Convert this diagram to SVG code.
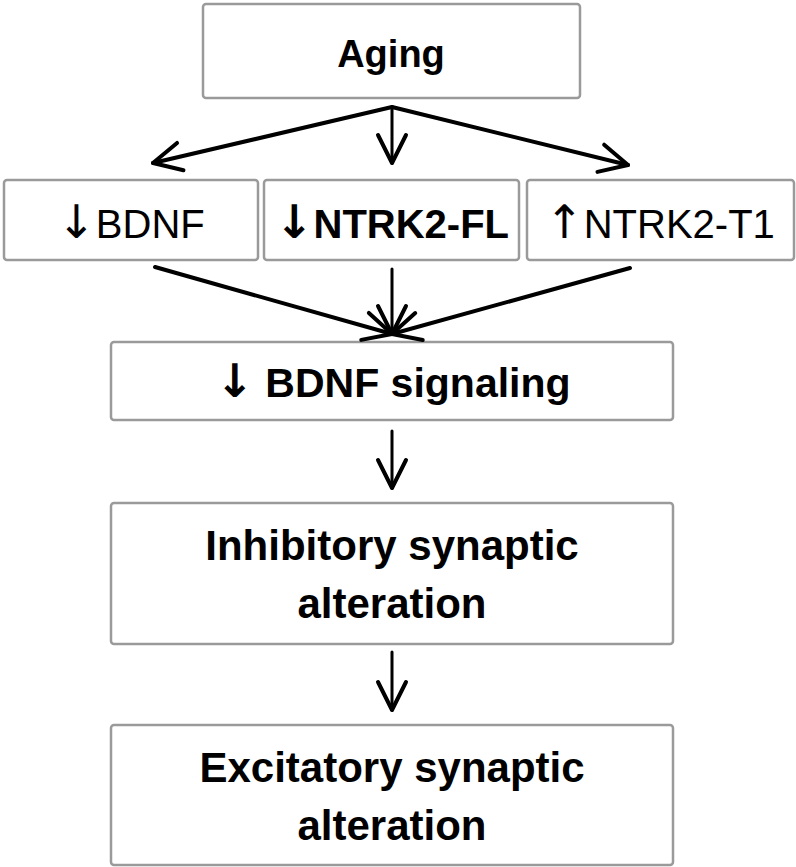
<svg xmlns="http://www.w3.org/2000/svg" width="796" height="867" viewBox="0 0 796 867">
<style>
.box{fill:#fff;stroke:#9a9a9a;stroke-width:2.5}
.t{font-family:"Liberation Sans",Arial,sans-serif;fill:#000;text-anchor:middle}
.b{font-weight:bold}
.ar{font-family:"DejaVu Sans",sans-serif;font-size:46px}
.c{stroke:#000;fill:none;stroke-linecap:round}
</style>
<defs>
<marker id="ah" markerUnits="userSpaceOnUse" markerWidth="40" markerHeight="40" viewBox="-34 -20 40 40" refX="0" refY="0" orient="auto">
<path d="M-28,-14 L0,0 L-28,14" fill="none" stroke="#000" stroke-width="4" stroke-linejoin="round" stroke-linecap="round"/>
</marker>
</defs>
<rect width="796" height="867" fill="#fff"/>
<g id="aging"><rect class="box" x="203" y="4" width="377" height="94" rx="3"/><text class="t b" x="391" y="67" font-size="38">Aging</text></g>
<g id="bdnf"><rect class="box" x="4" y="180" width="254" height="80" rx="3"/><text class="t" x="131" y="238" font-size="40"><tspan class="ar">↓</tspan>BDNF</text></g>
<g id="ntrk2fl"><rect class="box" x="264" y="180" width="255" height="80" rx="3"/><text class="t b" x="392" y="238" font-size="40"><tspan class="ar">↓</tspan>NTRK2-FL</text></g>
<g id="ntrk2t1"><rect class="box" x="527" y="180" width="267" height="80" rx="3"/><text class="t" x="660" y="238" font-size="40"><tspan class="ar">↑</tspan>NTRK2-T1</text></g>
<g id="signaling"><rect class="box" x="111" y="342" width="562" height="78" rx="3"/><text class="t b" x="393" y="397" font-size="41"><tspan class="ar">↓</tspan> BDNF signaling</text></g>
<g id="inhibitory"><rect class="box" x="111" y="503" width="562" height="141" rx="3"/><text class="t b" x="392" y="560" font-size="42">Inhibitory synaptic</text><text class="t b" x="392" y="618" font-size="42">alteration</text></g>
<g id="excitatory"><rect class="box" x="111" y="725" width="562" height="140" rx="3"/><text class="t b" x="392" y="782" font-size="42">Excitatory synaptic</text><text class="t b" x="392" y="840" font-size="42">alteration</text></g>
<g id="connectors">
<line class="c" x1="392" y1="107" x2="153" y2="163" stroke-width="4" marker-end="url(#ah)"/>
<line class="c" x1="392" y1="107" x2="392" y2="163" stroke-width="3" marker-end="url(#ah)"/>
<line class="c" x1="392" y1="107" x2="628" y2="165" stroke-width="4" marker-end="url(#ah)"/>
<line class="c" x1="155" y1="267" x2="392" y2="334" stroke-width="4" marker-end="url(#ah)"/>
<line class="c" x1="392" y1="269" x2="392" y2="334" stroke-width="3" marker-end="url(#ah)"/>
<line class="c" x1="630" y1="268" x2="392" y2="334" stroke-width="4" marker-end="url(#ah)"/>
<line class="c" x1="392" y1="431" x2="392" y2="488" stroke-width="3" marker-end="url(#ah)"/>
<line class="c" x1="392" y1="652" x2="392" y2="710" stroke-width="3" marker-end="url(#ah)"/>
</g>
</svg>
